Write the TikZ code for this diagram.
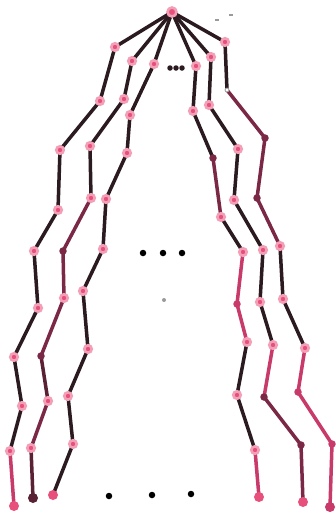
\documentclass[tikz,border=0pt]{standalone}
\usetikzlibrary{backgrounds}
\definecolor{pinkC}{HTML}{E8507C}
\definecolor{inkC}{HTML}{2B1B20}
\definecolor{maroonC}{HTML}{7B2846}
\definecolor{roseC}{HTML}{C83A6A}
\definecolor{dmaroonC}{HTML}{5A2034}
\definecolor{grayC}{HTML}{9A9A9A}
\tikzset{
  jt/.style={circle,inner sep=0pt,minimum size=7.5pt,fill=pinkC,draw=pinkC!55,line width=2.6pt},
  rootjt/.style={jt,minimum size=9pt},
  mj/.style={circle,inner sep=0pt,minimum size=7.5pt,fill=maroonC},
  rj/.style={circle,inner sep=0pt,minimum size=7.5pt,fill=roseC},
  wj/.style={circle,inner sep=0pt,minimum size=4pt,fill=white,draw=grayC,line width=0.8pt},
  endpk/.style={circle,inner sep=0pt,minimum size=10pt,fill=pinkC},
  endrs/.style={circle,inner sep=0pt,minimum size=10pt,fill=roseC},
  endmr/.style={circle,inner sep=0pt,minimum size=10pt,fill=dmaroonC},
  bdot/.style={circle,inner sep=0pt,minimum size=6.5pt,fill=black},
  sdot/.style={circle,inner sep=0pt,minimum size=5.5pt,fill=inkC},
  gdot/.style={circle,inner sep=0pt,minimum size=4pt,fill=grayC},
  gmark/.style={inner sep=0pt,minimum width=3.5pt,minimum height=1.2pt,fill=grayC},
  bk/.style={draw=inkC,line width=3.5pt,line cap=round},
  mr/.style={draw=maroonC,line width=3.5pt,line cap=round},
  dmr/.style={draw=dmaroonC,line width=3.5pt,line cap=round},
  pk/.style={draw=roseC,line width=3.5pt,line cap=round},
}
\begin{document}
\begin{tikzpicture}[x=1pt,y=-1pt]
\useasboundingbox (0,0) rectangle (336,515);
% root
\node[rootjt] (R) at (172,12) {};
% chain A
\node[jt] (A1) at (115,47) {};
\node[jt] (A2) at (100,101) {};
\node[jt] (A3) at (60,150) {};
\node[jt] (A4) at (58,210) {};
\node[jt] (A5) at (34,251) {};
\node[jt] (A6) at (38,308) {};
\node[jt] (A7) at (14,357) {};
\node[jt] (A8) at (22,406) {};
\node[jt] (A9) at (10,451) {};
\node[endpk] (A10) at (14,506) {};
% chain B
\node[jt] (B1) at (132,61) {};
\node[jt] (B2) at (124,99) {};
\node[jt] (B3) at (90,146) {};
\node[jt] (B4) at (91,198) {};
\node[mj] (B5) at (63,251) {};
\node[jt] (B6) at (64,298) {};
\node[mj] (B7) at (41,356) {};
\node[jt] (B8) at (48,401) {};
\node[jt] (B9) at (31,448) {};
\node[endmr] (B10) at (33,498) {};
% chain C
\node[jt] (C1) at (154,64) {};
\node[jt] (C2) at (130,115) {};
\node[jt] (C3) at (127,153) {};
\node[jt] (C4) at (106,199) {};
\node[jt] (C5) at (103,249) {};
\node[jt] (C6) at (83,291) {};
\node[jt] (C7) at (88,349) {};
\node[jt] (C8) at (68,396) {};
\node[jt] (C9) at (73,444) {};
\node[endpk] (C10) at (53,495) {};
% chain D
\node[jt] (D1) at (196,66) {};
\node[jt] (D2) at (193,111) {};
\node[mj] (D3) at (213,158) {};
\node[jt] (D4) at (221,217) {};
\node[jt] (D5) at (243,252) {};
\node[rj] (D6) at (237,304) {};
\node[jt] (D7) at (247,342) {};
\node[jt] (D8) at (237,395) {};
\node[jt] (D9) at (255,450) {};
\node[endpk] (D10) at (259,497) {};
% chain E
\node[jt] (E1) at (211,57) {};
\node[jt] (E2) at (209,105) {};
\node[jt] (E3) at (238,149) {};
\node[jt] (E4) at (234,200) {};
\node[jt] (E5) at (263,250) {};
\node[jt] (E6) at (260,302) {};
\node[jt] (E7) at (273,345) {};
\node[mj] (E8) at (264,397) {};
\node[mj] (E9) at (301,445) {};
\node[endpk] (E10) at (303,502) {};
% chain F
\node[jt] (F1) at (225,42) {};
\node[wj] (F2) at (227,90) {};
\node[mj] (F3) at (265,138) {};
\node[mj] (F4) at (257,198) {};
\node[jt] (F5) at (280,246) {};
\node[jt] (F6) at (283,299) {};
\node[jt] (F7) at (305,348) {};
\node[rj] (F8) at (298,392) {};
\node[rj] (F9) at (332,444) {};
\node[endrs] (F10) at (330,507) {};
% dots
\node[sdot] (t1) at (170,68) {};
\node[sdot] (t2) at (176,68) {};
\node[sdot] (t3) at (182,68) {};
\node[bdot] (m1) at (143,253) {};
\node[bdot] (m2) at (163,253) {};
\node[bdot] (m3) at (182,253) {};
\node[gdot] (g1) at (164,300) {};
\node[bdot] (b1) at (109,496) {};
\node[bdot] (b2) at (152,495) {};
\node[bdot] (b3) at (191,494) {};
\node[gmark] (k1) at (217,20) {};
\node[gmark] (k2) at (231,15) {};
\begin{pgfonlayer}{background}
\fill[white] (0,0) rectangle (336,515);
% A
\draw[bk] (R.center) -- (A1.center) -- (A2.center) -- (A3.center) -- (A4.center) -- (A5.center) -- (A6.center) -- (A7.center) -- (A8.center) -- (A9.center);
\draw[pk] (A9.center) -- (A10.center);
% B
\draw[bk] (R.center) -- (B1.center) -- (B2.center) -- (B3.center) -- (B4.center);
\draw[mr] (B4.center) -- (B5.center) -- (B6.center) -- (B7.center);
\draw[dmr] (B7.center) -- (B8.center);
\draw[mr] (B8.center) -- (B9.center);
\draw[dmr] (B9.center) -- (B10.center);
% C
\draw[bk] (R.center) -- (C1.center) -- (C2.center) -- (C3.center) -- (C4.center) -- (C5.center) -- (C6.center) -- (C7.center) -- (C8.center) -- (C9.center) -- (C10.center);
% D
\draw[bk] (R.center) -- (D1.center) -- (D2.center) -- (D3.center);
\draw[mr] (D3.center) -- (D4.center);
\draw[bk] (D4.center) -- (D5.center);
\draw[pk] (D5.center) -- (D6.center) -- (D7.center);
\draw[bk] (D7.center) -- (D8.center) -- (D9.center);
\draw[pk] (D9.center) -- (D10.center);
% E
\draw[bk] (R.center) -- (E1.center) -- (E2.center) -- (E3.center) -- (E4.center) -- (E5.center) -- (E6.center) -- (E7.center);
\draw[pk] (E7.center) -- (E8.center);
\draw[mr] (E8.center) -- (E9.center) -- (E10.center);
% F
\draw[bk] (R.center) -- (F1.center) -- (F2.center);
\draw[mr] (F2.center) -- (F3.center) -- (F4.center) -- (F5.center);
\draw[bk] (F5.center) -- (F6.center) -- (F7.center);
\draw[pk] (F7.center) -- (F8.center) -- (F9.center) -- (F10.center);
\end{pgfonlayer}
\end{tikzpicture}
\end{document}
